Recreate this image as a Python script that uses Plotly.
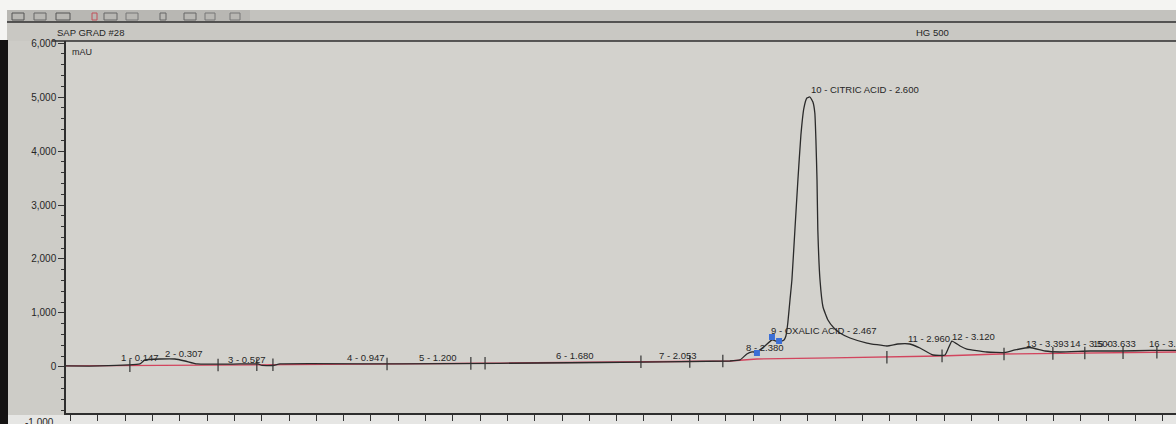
import numpy as np
import plotly.graph_objects as go

# ---------------- data ----------------
# detector signal: retention time (min) and absorbance (mAU)
sig_time = [-0.117, 0.007, 0.154, 0.172, 0.227, 0.282, 0.319, 0.363, 0.520, 0.586,
            0.601, 0.641, 0.667, 1.106, 1.839, 2.315, 2.352, 2.377, 2.396, 2.414,
            2.443, 2.469, 2.495, 2.513, 2.520, 2.527, 2.535, 2.542, 2.553, 2.564,
            2.575, 2.586, 2.597, 2.608, 2.619, 2.626, 2.630, 2.634, 2.637, 2.645,
            2.656, 2.674, 2.696, 2.718, 2.755, 2.817, 2.890, 2.930, 2.974, 3.011,
            3.059, 3.103, 3.128, 3.158, 3.183, 3.256, 3.322, 3.359, 3.414, 3.469,
            3.524, 3.634, 3.744, 3.853, 3.949]
sig_mau = [19, 19, 56, 130, 148, 148, 111, 56, 56, 56,
           28, 28, 56, 56, 83, 111, 130, 241, 278, 278,
           389, 500, 463, 500, 574, 815, 1241, 1611, 2537, 3463,
           4296, 4796, 4981, 5000, 4907, 4704, 4204, 3463, 2537, 1611,
           1111, 870, 722, 630, 537, 444, 389, 426, 426, 352,
           222, 222, 481, 389, 333, 278, 269, 315, 361, 296,
           278, 296, 296, 306, 306]

# integration baseline (mAU)
base_time = [-0.117, 1.106, 2.315, 2.414, 2.692, 2.956, 3.084, 3.304, 3.949]
base_mau = [19, 56, 111, 148, 167, 185, 204, 241, 278]

# peak delimiter positions (min)
delim_time = [0.117, 0.440, 0.582, 0.641, 1.059, 1.366, 1.418, 1.989, 2.168,
              2.289, 2.890, 3.092, 3.319, 3.498, 3.615, 3.755, 3.879]

# manually placed (blue) integration markers
blue_time = [2.414, 2.469, 2.495]
blue_mau = [259, 556, 481]

# peak labels
peak_labels = ["1 - 0.147", "2 - 0.307", "3 - 0.527", "4 - 0.947", "5 - 1.200",
               "6 - 1.680", "7 - 2.053", "8 - 2.380", "9 - OXALIC ACID - 2.467",
               "10 - CITRIC ACID - 2.600", "11 - 2.960", "12 - 3.120", "13 - 3.393",
               "14 - 3.500", "15 - 3.633", "16 - 3.853"]

y_tick_vals = [0, 1000, 2000, 3000, 4000, 5000, 6000]
y_tick_text = ["0", "1,000", "2,000", "3,000", "4,000", "5,000", "6,000"]

# ---------------- layout positions ----------------
label_pos = [(0.154, 185), (0.315, 259), (0.546, 130), (0.982, 185), (1.245, 185),
             (1.747, 204), (2.125, 222), (2.443, 370), (2.659, 685), (2.810, 5148),
             (3.044, 537), (3.209, 574), (3.480, 444), (3.641, 426), (3.725, 426),
             (3.842, 426)]

W, H = 1176, 424
PL, PR, PT, PB = 66, 1176, 41, 413


def px(x):
    return (x - PL) / (PR - PL)


def py(y):
    return (PB - y) / (PB - PT)


FONT = "Liberation Sans, Arial, sans-serif"
INK = "#262626"

fig = go.Figure()

# baseline (red)
fig.add_trace(go.Scatter(x=base_time, y=base_mau, mode="lines",
                         line=dict(color="#d2455e", width=1.3),
                         hoverinfo="skip", showlegend=False))

# signal
fig.add_trace(go.Scatter(x=sig_time, y=sig_mau, mode="lines",
                         line=dict(color="#2a2a2a", width=1.3, shape="spline", smoothing=0.4),
                         hoverinfo="skip", showlegend=False))

# delimiter ticks on baseline
delim_y = list(np.interp(delim_time, base_time, base_mau))
fig.add_trace(go.Scatter(x=delim_time, y=delim_y, mode="markers",
                         marker=dict(symbol="line-ns", size=9,
                                     line=dict(color="#333333", width=1.2)),
                         hoverinfo="skip", showlegend=False))

# blue markers
fig.add_trace(go.Scatter(x=blue_time, y=blue_mau, mode="markers",
                         marker=dict(symbol="square", size=6, color="#3b6fd6"),
                         hoverinfo="skip", showlegend=False))

annotations = []
for txt, (tx, ty) in zip(peak_labels, label_pos):
    anchor = "left" if txt.startswith("16") else "center"
    annotations.append(dict(x=tx, y=ty, xref="x", yref="y", text=txt, showarrow=False,
                            xanchor=anchor, yanchor="middle",
                            font=dict(family=FONT, size=9.5, color=INK)))

annotations += [
    dict(x=px(55), y=py(32), xref="paper", yref="paper", text="SAP GRAD #28",
         showarrow=False, xanchor="left", yanchor="middle",
         font=dict(family=FONT, size=9.5, color=INK)),
    dict(x=px(932), y=py(32), xref="paper", yref="paper", text="HG 500",
         showarrow=False, xanchor="center", yanchor="middle",
         font=dict(family=FONT, size=9.5, color=INK)),
    dict(x=px(70), y=py(52), xref="paper", yref="paper", text="mAU",
         showarrow=False, xanchor="left", yanchor="middle",
         font=dict(family=FONT, size=9, color=INK)),
    dict(x=px(56), y=py(422), xref="paper", yref="paper", text="-1,000",
         showarrow=False, xanchor="right", yanchor="middle",
         font=dict(family=FONT, size=10, color=INK)),
]

shapes = [
    # white strip at the very top
    dict(type="rect", xref="paper", yref="paper", x0=px(0), x1=px(W), y0=py(10), y1=py(0),
         fillcolor="#f4f4f2", line=dict(width=0), layer="below"),
    # toolbar
    dict(type="rect", xref="paper", yref="paper", x0=px(7), x1=px(250), y0=py(22), y1=py(10),
         fillcolor="#b8b7b3", line=dict(width=0), layer="below"),
    dict(type="rect", xref="paper", yref="paper", x0=px(250), x1=px(W), y0=py(22), y1=py(10),
         fillcolor="#c3c2be", line=dict(width=0), layer="below"),
    # header band
    dict(type="rect", xref="paper", yref="paper", x0=px(7), x1=px(W), y0=py(41), y1=py(22),
         fillcolor="#c9c8c3", line=dict(width=0), layer="below"),
    dict(type="line", xref="paper", yref="paper", x0=px(7), x1=px(W), y0=py(22), y1=py(22),
         line=dict(color="#2e2e2e", width=1.5)),
    dict(type="line", xref="paper", yref="paper", x0=px(52), x1=px(W), y0=py(41), y1=py(41),
         line=dict(color="#2e2e2e", width=1.5)),
    # light strip at bottom
    dict(type="rect", xref="paper", yref="paper", x0=px(8), x1=px(W), y0=py(H), y1=py(415),
         fillcolor="#e6e6e4", line=dict(width=0), layer="below"),
    # dark monitor bezel at the left
    dict(type="rect", xref="paper", yref="paper", x0=px(0), x1=px(8), y0=py(H), y1=py(40),
         fillcolor="#141212", line=dict(width=0)),
    dict(type="rect", xref="paper", yref="paper", x0=px(0), x1=px(7), y0=py(40), y1=py(10),
         fillcolor="#f4f4f2", line=dict(width=0)),
]

# toolbar icon hints
for x0, x1, c in [(12, 24, "#555"), (34, 46, "#666"), (56, 70, "#555"), (92, 97, "#c0505a"),
                  (104, 117, "#666"), (126, 138, "#777"), (160, 166, "#666"),
                  (184, 196, "#666"), (205, 215, "#777"), (230, 240, "#777")]:
    shapes.append(dict(type="rect", xref="paper", yref="paper", x0=px(x0), x1=px(x1),
                       y0=py(20), y1=py(13), line=dict(color=c, width=1), fillcolor="rgba(0,0,0,0)"))

fig.update_layout(
    width=W, height=H,
    margin=dict(l=PL, r=W - PR, t=PT, b=H - PB),
    paper_bgcolor="#cdccc7",
    plot_bgcolor="#d3d2cd",
    showlegend=False,
    annotations=annotations,
    shapes=shapes,
    font=dict(family=FONT, color=INK),
)

fig.update_xaxes(range=[-0.117, 3.949], showgrid=False, zeroline=False,
                 showline=True, linecolor="#2e2e2e", linewidth=1.5,
                 ticks="outside", ticklen=6, tickcolor="#333", dtick=0.1, tick0=0,
                 showticklabels=False)

fig.update_yaxes(range=[-852, 6037], showgrid=False, zeroline=False,
                 showline=True, linecolor="#2e2e2e", linewidth=1.5,
                 tickmode="array", tickvals=y_tick_vals, ticktext=y_tick_text,
                 ticks="outside", ticklen=6, tickcolor="#333",
                 minor=dict(dtick=200, ticks="outside", ticklen=3, tickcolor="#333"),
                 tickfont=dict(family=FONT, size=10, color=INK))

fig.write_html("out.html", config={"displayModeBar": False},
               post_script="document.body.style.margin='0';document.body.style.overflow='hidden';")
